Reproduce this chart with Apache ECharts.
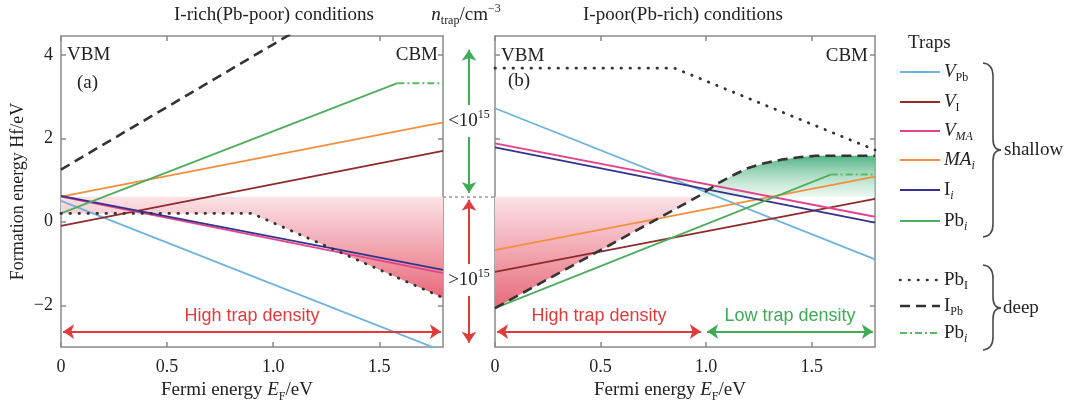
<!DOCTYPE html>
<html lang="zh-CN">
<head>
<meta charset="UTF-8">
<title>缺陷形成能</title>
<script src="https://cdn.jsdelivr.net/npm/echarts@6/dist/echarts.min.js"></script>
<style>
  html, body { margin: 0; padding: 0; background: #fff; }
  #main { width: 1085px; height: 405px; }
</style>
</head>
<body>
<div id="main"></div>
<script>
// 坐标范围与刻度
var xMin = 0, xMax = 1.8;
var yMin = -3, yMax = 4.45;
var xTicks = [0, 0.5, 1.0, 1.5];
var yTicks = [-2, 0, 2, 4];

// (a) I-rich(Pb-poor) 各缺陷形成能 [Ef, Hf]
var aVPb = [[0, 0.5], [1.8, -3.1]];
var aVI = [[0, -0.1], [1.8, 1.7]];
var aVMA = [[0, 0.6], [1.8, -1.23]];
var aMAi = [[0, 0.6], [1.8, 2.38]];
var aIi = [[0, 0.62], [1.8, -1.15]];
var aPbi = [[0, 0.2], [1.585, 3.32]];
var aPbiDeep = [[1.585, 3.32], [1.8, 3.32]];
var aPbI = [[0, 0.2], [0.9, 0.2], [1.8, -1.82]];
var aIPb = [[0, 1.25], [1.8, 6.65]];

// (b) I-poor(Pb-rich)
var bVPb = [[0, 2.72], [1.8, -0.9]];
var bVI = [[0, -1.2], [1.8, 0.55]];
var bVMA = [[0, 1.88], [1.8, 0.12]];
var bMAi = [[0, -0.68], [1.8, 1.08]];
var bIi = [[0, 1.78], [1.8, -0.02]];
var bPbi = [[0, -2.07], [1.59, 1.13]];
var bPbiDeep = [[1.59, 1.13], [1.8, 1.13]];
var bPbI = [[0, 3.68], [0.85, 3.68], [1.8, 1.72]];
var bIPb = [[0, -2.07], [0.96, 0.6], [1.06, 0.93], [1.13, 1.12], [1.2, 1.29], [1.28, 1.41],
            [1.36, 1.49], [1.45, 1.55], [1.52, 1.58], [1.8, 1.58]];

// 陷阱密度分界 (约 0.6 eV)
var nTrapLevel = 0.6;

// 图例
var shallowNames = ['{it|V}{sub|Pb}', '{it|V}{sub|I}', '{it|V}{subi|MA}', '{it|MA}{subi|i}', '{t|I}{subi|i}', '{t|Pb}{subi|i}'];
var deepNames = ['{t|Pb}{sub|I}', '{t|I}{sub|Pb}', '{t|Pb}{subi|i}'];

var serif = 'Liberation Serif';
var sans = 'Liberation Sans';
var frameColor = '#8a8a8a';

var st = {
  VPb: { color: '#6db3de', width: 1.8, type: 'solid' },
  VI: { color: '#8e2b2b', width: 1.8, type: 'solid' },
  VMA: { color: '#e2438c', width: 1.8, type: 'solid' },
  MAi: { color: '#f29040', width: 1.8, type: 'solid' },
  Ii: { color: '#33338c', width: 1.8, type: 'solid' },
  Pbi: { color: '#4fae5c', width: 1.8, type: 'solid' },
  PbI: { color: '#333333', width: 2.8, type: [0.5, 8.5], cap: 'round' },
  IPb: { color: '#333333', width: 2.6, type: [10, 6] },
  PbiDeep: { color: '#5cb865', width: 2, type: [7, 3, 2, 3] }
};
var shallowStyles = [st.VPb, st.VI, st.VMA, st.MAi, st.Ii, st.Pbi];
var deepStyles = [st.PbI, st.IPb, st.PbiDeep];

var rich = {
  t: { fontFamily: serif, fontSize: 19, lineHeight: 24, color: '#222' },
  it: { fontFamily: serif, fontSize: 19, fontStyle: 'italic', lineHeight: 24, color: '#222' },
  sub: { fontFamily: serif, fontSize: 12, lineHeight: 12, verticalAlign: 'bottom', color: '#222' },
  subi: { fontFamily: serif, fontSize: 12, fontStyle: 'italic', lineHeight: 12, verticalAlign: 'bottom', color: '#222' },
  sup: { fontFamily: serif, fontSize: 12, lineHeight: 12, verticalAlign: 'top', color: '#222' }
};

function ln(data, idx, s) {
  return {
    type: 'line', xAxisIndex: idx, yAxisIndex: idx, data: data,
    symbol: 'none', silent: true, z: 3, animation: false, clip: true,
    lineStyle: { color: s.color, width: s.width, type: s.type, cap: s.cap || 'butt' }
  };
}

function region(points, idx, stops) {
  return {
    type: 'custom', xAxisIndex: idx, yAxisIndex: idx, z: 1, silent: true, clip: true,
    animation: false, data: [[0, 0]],
    renderItem: function (params, api) {
      var pts = points.map(function (p) { return api.coord(p); });
      return {
        type: 'polygon', shape: { points: pts },
        style: { fill: new echarts.graphic.LinearGradient(0, 0, 0, 1, stops), stroke: null }
      };
    }
  };
}

function arrow(idx, from, to, color, text, showText) {
  return {
    type: 'line', xAxisIndex: idx, yAxisIndex: idx, data: [], silent: true, animation: false,
    markLine: {
      silent: true, animation: false,
      symbol: ['arrow', 'arrow'], symbolSize: 11,
      lineStyle: { color: color, width: 2, type: 'solid' },
      label: {
        show: !!showText, position: 'insideMiddleTop', formatter: text, distance: 7,
        color: color, fontFamily: sans, fontSize: 18
      },
      data: [[{ coord: from }, { coord: to }]]
    }
  };
}

function fx(v) { return v === 0 ? '0' : v.toFixed(1); }
function fy(v) { return v < 0 ? '\u2212' + Math.abs(v) : String(v); }

function xAxis(gi, pos, label) {
  return {
    type: 'value', gridIndex: gi, position: pos, min: xMin, max: xMax,
    axisLine: { show: true, onZero: false, lineStyle: { color: frameColor, width: 1.5 } },
    axisTick: { show: true, inside: true, length: 5, customValues: xTicks, lineStyle: { color: frameColor, width: 1.5 } },
    axisLabel: { show: label, customValues: xTicks, margin: 11, color: '#222', fontSize: 18, fontFamily: serif, formatter: fx },
    splitLine: { show: false },
    name: label ? '{t|Fermi energy }{it|E}{sub|F}{t|/eV}' : '',
    nameLocation: 'middle', nameGap: 27,
    nameTextStyle: { rich: rich, padding: [0, 30, 0, 0] }
  };
}
function yAxis(gi, pos, label) {
  return {
    type: 'value', gridIndex: gi, position: pos, min: yMin, max: yMax,
    axisLine: { show: true, onZero: false, lineStyle: { color: frameColor, width: 1.5 } },
    axisTick: { show: true, inside: true, length: 5, customValues: yTicks, lineStyle: { color: frameColor, width: 1.5 } },
    axisLabel: { show: label, customValues: yTicks, margin: 8, color: '#222', fontSize: 18, fontFamily: serif, formatter: fy },
    splitLine: { show: false },
    name: label ? 'Formation energy Hf/eV' : '',
    nameLocation: 'middle', nameGap: 34,
    nameTextStyle: { color: '#222', fontSize: 18, fontFamily: serif }
  };
}

// 阴影区域
var pinkA = [[xMin, nTrapLevel], [xMax, nTrapLevel]].concat(aPbI.slice().reverse());
var pinkB = [[0, nTrapLevel], [0.96, nTrapLevel], [0, -2.07]];
var greenB = bIPb.filter(function (p) { return p[1] >= nTrapLevel; }).concat([[xMax, nTrapLevel]]);

var pinkStops = [{ offset: 0, color: '#fbe2e6' }, { offset: 1, color: '#e86a7a' }];
var greenStops = [{ offset: 0, color: '#52b382' }, { offset: 1, color: 'rgba(215,240,226,0.5)' }];

var series = [
  region(pinkA, 0, pinkStops),
  ln(aVPb, 0, st.VPb), ln(aVI, 0, st.VI), ln(aMAi, 0, st.MAi), ln(aVMA, 0, st.VMA), ln(aIi, 0, st.Ii),
  ln(aPbi, 0, st.Pbi), ln(aPbiDeep, 0, st.PbiDeep), ln(aPbI, 0, st.PbI), ln(aIPb, 0, st.IPb),
  arrow(0, [0.01, -2.63], [1.79, -2.63], '#e03b3b', 'High trap density', true),

  region(pinkB, 2, pinkStops),
  region(greenB, 2, greenStops),
  ln(bVPb, 2, st.VPb), ln(bVI, 2, st.VI), ln(bMAi, 2, st.MAi), ln(bVMA, 2, st.VMA), ln(bIi, 2, st.Ii),
  ln(bPbi, 2, st.Pbi), ln(bPbiDeep, 2, st.PbiDeep), ln(bPbI, 2, st.PbI), ln(bIPb, 2, st.IPb),
  arrow(2, [0.01, -2.63], [0.975, -2.63], '#e03b3b', 'High trap density', true),
  arrow(2, [1.005, -2.63], [1.79, -2.63], '#3fab55', 'Low trap density', true),

  // 中间 n_trap 轴
  {
    type: 'line', xAxisIndex: 4, yAxisIndex: 4, data: [], silent: true,
    markLine: {
      silent: true, animation: false, symbol: 'none', label: { show: false },
      lineStyle: { color: '#9a9a9a', width: 1.5, type: [3, 3] },
      data: [[{ coord: [0, nTrapLevel] }, { coord: [1, nTrapLevel] }]]
    }
  },
  arrow(4, [0.5, 0.69], [0.5, 4.12], '#3fab55', '', false),
  arrow(4, [0.5, -2.9], [0.5, 0.53], '#e03b3b', '', false)
];

function txt(x, y, text, align, extra) {
  var s = {
    text: text, x: x, y: y, align: align || 'left', textAlign: align || 'left',
    verticalAlign: 'middle', textVerticalAlign: 'middle',
    fontFamily: serif, fontSize: 19, fill: '#222', rich: rich
  };
  if (extra) { for (var k in extra) s[k] = extra[k]; }
  return { type: 'text', z: 100, silent: true, style: s };
}

// 花括号: 由二次曲线和直线拼成
function brace(x0, y0, y1, ym) {
  var xm = x0 + 10, tip = x0 + 18;
  var bs = { stroke: '#4a4a4a', lineWidth: 1.6, fill: null };
  function q(a, b, c, d, e, f) {
    return { type: 'bezierCurve', z: 100, silent: true, shape: { x1: a, y1: b, cpx1: c, cpy1: d, x2: e, y2: f }, style: bs };
  }
  function l(a, b, c, d) {
    return { type: 'line', z: 100, silent: true, shape: { x1: a, y1: b, x2: c, y2: d }, style: bs };
  }
  return [
    q(x0, y0, xm, y0 + 1, xm, y0 + 13),
    l(xm, y0 + 13, xm, ym - 11),
    q(xm, ym - 11, xm, ym, tip, ym),
    q(tip, ym, xm, ym, xm, ym + 11),
    l(xm, ym + 11, xm, y1 - 13),
    q(xm, y1 - 13, xm, y1 - 1, x0, y1)
  ];
}

var graphics = [
  txt(274, 15, 'I-rich(Pb-poor) conditions', 'center'),
  txt(466, 15, '{it|n}{sub|trap}{t|/cm}{sup|\u22123}', 'center'),
  txt(683, 15, 'I-poor(Pb-rich) conditions', 'center'),
  txt(67, 55, 'VBM'), txt(77, 83, '(a)'), txt(438, 55, 'CBM', 'right'),
  txt(501, 56, 'VBM'), txt(508, 81, '(b)'), txt(868, 56, 'CBM', 'right'),
  txt(469, 121, '{t|<10}{sup|15}', 'center', { backgroundColor: '#fff', padding: [4, 0, 4, 0] }),
  txt(469, 280, '{t|>10}{sup|15}', 'center', { backgroundColor: '#fff', padding: [4, 0, 4, 0] }),
  txt(908, 43, 'Traps'),
  txt(1004, 150, 'shallow'),
  txt(1003, 308, 'deep')
].concat(brace(983, 63, 237, 150), brace(983, 265, 350, 308));

var shallowRows = [72, 102, 131, 160, 190, 221];
var deepRows = [280, 306, 333];
function legendRow(y, s, name) {
  graphics.push({
    type: 'line', z: 100, silent: true,
    shape: { x1: 900, y1: y, x2: 940, y2: y },
    style: { stroke: s.color, lineWidth: Math.min(s.width, 2.6), lineDash: s.type === 'solid' ? null : s.type, lineCap: s.cap || 'butt' }
  });
  graphics.push(txt(944, y, name));
}
shallowNames.forEach(function (n, i) { legendRow(shallowRows[i], shallowStyles[i], n); });
deepNames.forEach(function (n, i) { legendRow(deepRows[i], deepStyles[i], n); });

var myChart = echarts.init(document.getElementById('main'), null, { renderer: 'canvas' });
var option = {
  animation: false,
  backgroundColor: '#fff',
  grid: [
    { left: 61, top: 36, width: 382, height: 311, outerBoundsMode: 'none' },
    { left: 495, top: 36, width: 380, height: 311, outerBoundsMode: 'none' },
    { left: 443, top: 36, width: 52, height: 311, outerBoundsMode: 'none' }
  ],
  xAxis: [
    xAxis(0, 'bottom', true), xAxis(0, 'top', false),
    xAxis(1, 'bottom', true), xAxis(1, 'top', false),
    { type: 'value', gridIndex: 2, min: 0, max: 1, show: false }
  ],
  yAxis: [
    yAxis(0, 'left', true), yAxis(0, 'right', false),
    yAxis(1, 'left', false), yAxis(1, 'right', false),
    { type: 'value', gridIndex: 2, min: yMin, max: yMax, show: false }
  ],
  series: series,
  graphic: graphics
};
myChart.setOption(option);
window.onresize = myChart.resize;
</script>
</body>
</html>
